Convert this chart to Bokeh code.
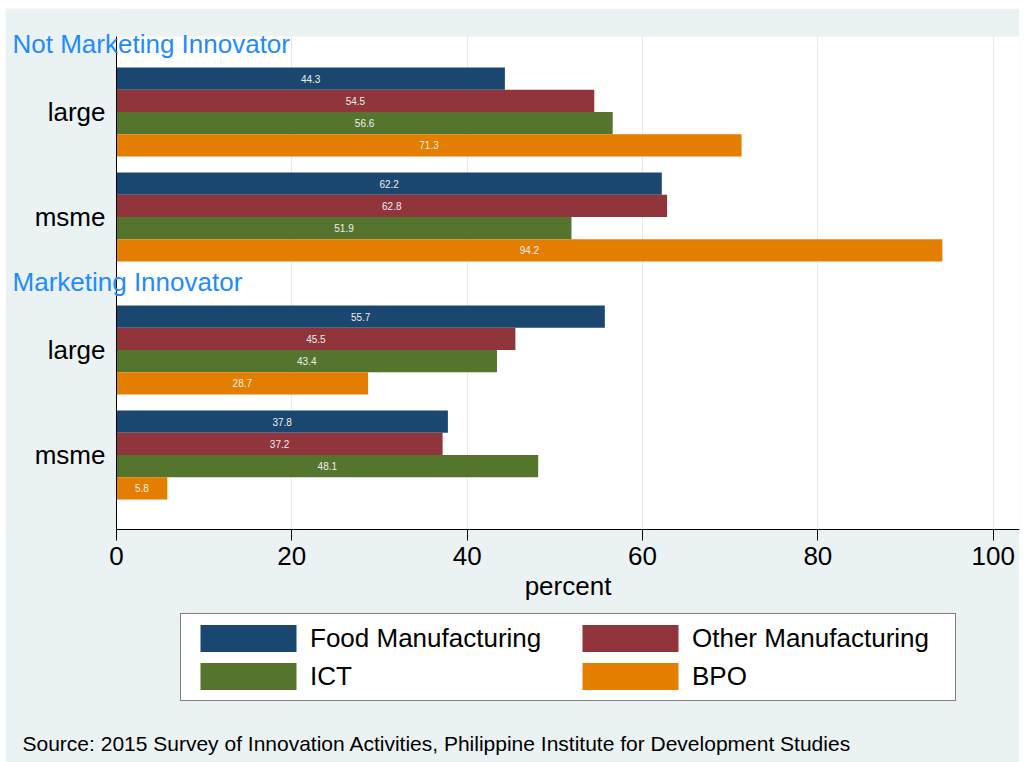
from bokeh.plotting import figure
from bokeh.models import (Range1d, ColumnDataSource, Legend, LegendItem,
                          Label, FixedTicker, BoxAnnotation)
from bokeh.transform import dodge
from bokeh.core.properties import value
from bokeh.embed import file_html
from bokeh.resources import INLINE

# ---- data -------------------------------------------------------------
groups = ["Not Marketing Innovator", "Marketing Innovator"]
sizes = ["large", "msme"]
series = ["Food Manufacturing", "Other Manufacturing", "ICT", "BPO"]
colors = ["#1a476f", "#90353b", "#55752f", "#e37e00"]

# order: (Not Mkt, large), (Not Mkt, msme), (Mkt, large), (Mkt, msme)
food = [44.3, 62.2, 55.7, 37.8]
other = [54.5, 62.8, 45.5, 37.2]
ict = [56.6, 51.9, 43.4, 48.1]
bpo = [71.3, 94.2, 28.7, 5.8]
values = [food, other, ict, bpo]

x_ticks = [0, 20, 40, 60, 80, 100]
x_label = "percent"
source_note = ("Source: 2015 Survey of Innovation Activities, "
               "Philippine Institute for Development Studies")

FONT = "Liberation Sans"
BG = "#eaf2f3"

# ---- category layout (y grows downward) ----------------------------------
factor_pad, group_pad = 0.05, 0.33
bar_h = 0.2225
pos, tick_text = [], {}
for g in range(len(groups)):
    for j in range(len(sizes)):
        y = round(0.5 + j * (1 + factor_pad) + g * (2 + factor_pad + group_pad), 4)
        pos.append(y)
        tick_text[y] = sizes[j]
plot_top = pos[0] - 0.755       # top of the white plot region
plot_bottom = pos[-1] + 0.745   # value axis position

x_start, x_end = -12.66, 103.0
y_top, y_bottom = -0.535, 7.005

p = figure(width=1015, height=754,
           x_range=Range1d(x_start, x_end),
           y_range=Range1d(y_bottom, y_top),
           output_backend="svg", toolbar_location=None,
           min_border_left=0, min_border_right=1,
           min_border_top=0, min_border_bottom=0,
           background_fill_color="white", border_fill_color=BG,
           outline_line_color=None)
p.margin = (8, 0, 0, 5)

# grid first (underlay), then grey boxes masking everything outside the plot region
p.xgrid.ticker = FixedTicker(ticks=x_ticks[1:])
p.xgrid.grid_line_color = "#e3ecee"
p.xgrid.grid_line_width = 1
p.ygrid.visible = False

p.add_layout(BoxAnnotation(right=0, fill_color=BG, fill_alpha=1,
                           line_color=None, level="underlay"))
p.add_layout(BoxAnnotation(bottom=plot_top, fill_color=BG, fill_alpha=1,
                           line_color=None, level="underlay"))
p.add_layout(BoxAnnotation(top=plot_bottom, fill_color=BG, fill_alpha=1,
                           line_color=None, level="underlay"))

renderers = []
for i, (name, vals, col) in enumerate(zip(series, values, colors)):
    src = ColumnDataSource(dict(pos=pos, v=vals,
                                mid=[v / 2 for v in vals],
                                lbl=[f"{v:.1f}" for v in vals]))
    off = (i - 1.5) * bar_h
    r = p.hbar(y=dodge("pos", off), left=0, right="v",
               height=bar_h, source=src, fill_color=col, line_color=None)
    p.text(x="mid", y=dodge("pos", off), text="lbl",
           source=src, text_align="center", text_baseline="middle",
           text_font_size="10px", text_color="#eeeeee",
           text_font=value(FONT))
    renderers.append(r)

# ---- axes ---------------------------------------------------------------
xa = p.xaxis[0]
xa.fixed_location = plot_bottom
xa.bounds = (0, x_end)
xa.ticker = FixedTicker(ticks=x_ticks)
xa.minor_tick_line_color = None
xa.major_tick_out = 11
xa.major_tick_in = 0
xa.major_label_standoff = 6
xa.major_label_text_font_size = "26px"
xa.major_label_text_font = FONT
xa.major_label_text_color = "black"
xa.axis_line_color = "black"
xa.major_tick_line_color = "black"

ya = p.yaxis[0]
ya.fixed_location = 0
ya.bounds = (plot_top, plot_bottom)
ya.ticker = FixedTicker(ticks=pos)
ya.major_label_overrides = tick_text
ya.minor_tick_line_color = None
ya.major_tick_out = 0
ya.major_tick_in = 0
ya.major_label_standoff = 11
ya.major_label_text_font_size = "26px"
ya.major_label_text_font = FONT
ya.major_label_text_color = "black"
ya.axis_line_color = "black"

# ---- texts ---------------------------------------------------------------
label_gap = 0.235
for g, name in enumerate(groups):
    top_bar = pos[g * len(sizes)] - 2 * bar_h
    p.add_layout(Label(x=-11.86, y=top_bar - label_gap,
                       text=name, text_font=FONT, text_font_size="26px",
                       text_color="#1e8cff", text_baseline="middle"))

p.add_layout(Label(x=x_end / 2, y=plot_bottom + 0.56, text=x_label,
                   text_align="center", text_baseline="middle",
                   text_font=FONT, text_font_size="26px", text_color="black"))

p.add_layout(Label(x=-10.72, y=plot_bottom + 2.135, text=source_note,
                   text_align="left", text_baseline="middle",
                   text_font=FONT, text_font_size="21px", text_color="black"))

order = [0, 2, 1, 3]
legend = Legend(items=[LegendItem(label=series[k], renderers=[renderers[k]])
                       for k in order],
                location=(175, 61), ncols=2,
                padding=7, margin=0, spacing=4,
                glyph_width=120, glyph_height=34,
                label_standoff=2, label_width=256,
                label_text_font=FONT, label_text_font_size="26px",
                label_text_color="black",
                border_line_color="black", border_line_width=1,
                background_fill_color="white", background_fill_alpha=1)
p.add_layout(legend)

open("out.html", "w").write(file_html(p, INLINE))
